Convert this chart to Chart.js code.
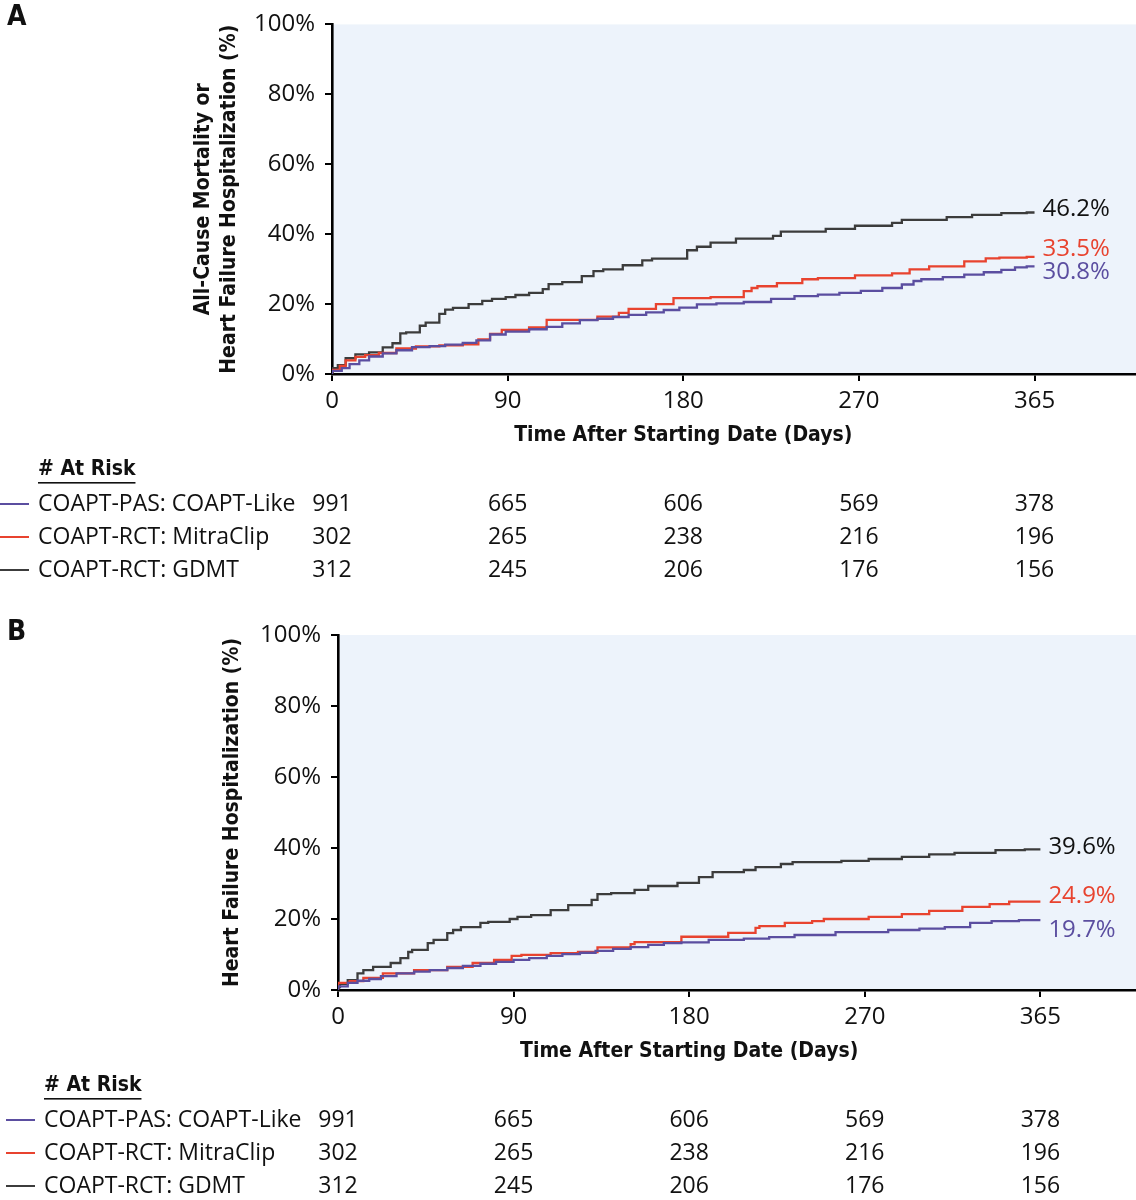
<!DOCTYPE html>
<html lang="en">
<head>
<meta charset="utf-8" />
<script src="https://cdn.jsdelivr.net/npm/chart.js@4.4.1/dist/chart.umd.min.js"></script>
<style>
  body { margin: 0; background: #fff; }
  .wrap { position: relative; width: 1136px; height: 1200px; }
  canvas { position: absolute; left: 0; }
</style>
</head>
<body>
<div class="wrap">
  <canvas id="chartA" width="1136" height="605" style="top:0"></canvas>
  <canvas id="chartB" width="1136" height="595" style="top:605px"></canvas>
</div>

<script>
// ---- data (days, cumulative %) ----
const groupNames = ['COAPT-PAS: COAPT-Like', 'COAPT-RCT: MitraClip', 'COAPT-RCT: GDMT'];

// panel A: all-cause mortality or HF hospitalization
const aLikeDays = [0, 5, 9, 14, 19, 26, 33, 41, 50, 58, 67, 74, 81, 89, 101, 110, 118, 127, 136, 144, 152, 161, 170, 178, 187, 197, 211, 225, 237, 249, 260, 271, 282, 292, 298, 302, 313, 324, 334, 343, 350, 356, 360];
const aLikePct  = [0, 0.9, 1.7, 2.8, 3.9, 5.0, 5.9, 6.8, 7.7, 8.0, 8.4, 8.9, 9.6, 11.3, 12.1, 12.8, 13.5, 14.5, 15.4, 15.8, 16.3, 16.9, 17.6, 18.3, 19.0, 19.9, 20.2, 20.6, 21.5, 22.3, 22.7, 23.2, 23.8, 24.6, 25.6, 26.6, 27.1, 27.7, 28.4, 29.1, 29.8, 30.5, 30.8];
const aMitraDays = [0, 4, 7, 12, 17, 24, 33, 43, 55, 67, 75, 81, 87, 101, 110, 136, 147, 152, 166, 175, 194, 211, 215, 218, 228, 241, 249, 268, 287, 296, 306, 324, 335, 342, 356, 360];
const aMitraPct  = [0, 1.2, 2.3, 3.9, 4.9, 5.4, 6.0, 7.3, 7.9, 8.2, 8.5, 9.9, 11.5, 12.6, 13.3, 15.5, 16.4, 17.5, 18.6, 20.0, 21.7, 22.0, 23.7, 24.6, 25.1, 26.0, 27.1, 27.4, 28.2, 28.8, 29.9, 30.8, 32.2, 33.1, 33.3, 33.5];
const aGdmtDays = [0, 3, 7, 12, 19, 26, 31, 35, 38, 45, 48, 55, 58, 62, 70, 77, 82, 89, 94, 101, 108, 111, 118, 128, 134, 139, 149, 159, 164, 182, 187, 194, 207, 226, 230, 253, 268, 287, 292, 315, 328, 343, 356, 360];
const aGdmtPct  = [0, 1.7, 2.5, 4.5, 5.6, 6.2, 7.6, 8.8, 11.6, 11.9, 13.8, 14.7, 17.2, 18.4, 18.9, 20.0, 20.9, 21.5, 22.0, 22.6, 23.2, 24.3, 25.7, 26.3, 28.0, 29.4, 29.9, 31.1, 32.5, 33.0, 35.4, 36.4, 37.6, 38.7, 39.5, 40.7, 41.5, 42.4, 43.2, 44.1, 44.9, 45.5, 46.0, 46.2];
const aEndLabels = ['30.8%', '33.5%', '46.2%'];

// panel B: HF hospitalization
const bLikeDays = [0, 5, 10, 16, 22, 30, 39, 47, 56, 64, 73, 81, 90, 98, 107, 115, 124, 132, 141, 150, 159, 167, 176, 190, 208, 221, 234, 255, 282, 298, 311, 324, 335, 349, 356, 360];
const bLikePct  = [0, 1.0, 2.0, 2.6, 3.1, 3.9, 4.7, 5.2, 5.6, 6.2, 6.8, 7.4, 7.9, 8.5, 9.0, 9.6, 10.1, 10.5, 11.0, 11.6, 12.1, 12.7, 13.2, 13.4, 14.1, 14.5, 14.9, 15.5, 16.3, 16.9, 17.3, 17.7, 18.9, 19.4, 19.7, 19.7];
const bMitraDays = [0, 6, 13, 23, 39, 56, 69, 80, 89, 94, 109, 123, 133, 150, 152, 176, 200, 214, 216, 229, 243, 249, 272, 289, 303, 320, 334, 344, 356, 360];
const bMitraPct  = [0, 2.0, 2.5, 3.4, 4.7, 5.6, 6.5, 7.6, 8.5, 9.6, 9.9, 10.4, 10.7, 12.0, 12.9, 13.5, 15.0, 16.1, 17.5, 18.0, 18.9, 19.4, 20.0, 20.6, 21.4, 22.3, 23.4, 24.2, 24.9, 24.9];
const bGdmtDays = [0, 1, 5, 10, 13, 18, 27, 32, 36, 38, 46, 49, 56, 59, 63, 73, 77, 88, 92, 99, 109, 118, 130, 133, 140, 152, 159, 174, 185, 192, 208, 214, 227, 233, 258, 272, 289, 303, 316, 337, 352, 357, 360];
const bGdmtPct  = [0, 0.8, 1.7, 2.8, 4.7, 5.6, 6.5, 7.6, 9.0, 10.7, 11.3, 13.2, 14.1, 16.0, 16.9, 17.7, 18.9, 19.2, 20.0, 20.6, 21.1, 22.5, 23.9, 25.4, 27.0, 27.3, 28.2, 29.3, 30.2, 31.8, 33.2, 33.8, 34.6, 35.5, 36.0, 36.4, 36.9, 37.5, 38.2, 38.6, 39.4, 39.6, 39.6];
const bEndLabels = ['19.7%', '24.9%', '39.6%'];

// x axis: the figure spaces its ticks evenly, last one printed as 365
const xTicks = [0, 90, 180, 270, 360];
const xTickLabels = ['0', '90', '180', '270', '365'];
const yTicks = [0, 20, 40, 60, 80, 100];

// number at risk (same in both panels)
const atRiskLike  = [991, 665, 606, 569, 378];
const atRiskMitra = [302, 265, 238, 216, 196];
const atRiskGdmt  = [312, 245, 206, 176, 156];

// ---- styles ----
const lineColors = ['#5b4ea0', '#e8432f', '#3c3c3c'];
const labelColors = ['#5b4ea0', '#e8432f', '#111111'];
const regular = "'Open Sans', 'Noto Sans', sans-serif";
const narrow = "'DejaVu Sans Condensed', 'Liberation Sans Narrow', sans-serif";

function toXY(days, pct) {
	return days.map((d, i) => ({x: d, y: pct[i]}));
}

const kmExtras = {
	id: 'kmExtras',
	beforeDraw: (chart, args, opts) => {
		const {ctx, chartArea} = chart;
		ctx.save();
		ctx.fillStyle = '#edf3fb';
		ctx.fillRect(chartArea.left, chartArea.top, chartArea.right - chartArea.left, chartArea.bottom - chartArea.top);
		ctx.restore();
	},
	afterDraw: (chart, args, opts) => {
		const {ctx, chartArea} = chart;
		const xs = chart.scales.x, ys = chart.scales.y;
		ctx.save();
		ctx.fillStyle = '#111';
		ctx.textBaseline = 'middle';

		// panel letter
		ctx.font = 'bold 28px ' + narrow;
		ctx.textAlign = 'left';
		ctx.fillText(opts.letter, 7, opts.letterY);

		// x title, centred on the 0..365 span
		ctx.font = 'bold 21px ' + narrow;
		ctx.textAlign = 'center';
		const mid = (xs.getPixelForValue(xTicks[0]) + xs.getPixelForValue(xTicks[xTicks.length - 1])) / 2;
		ctx.fillText('Time After Starting Date (Days)', mid, chartArea.bottom + 62);

		// end-of-curve labels
		ctx.font = '24px ' + regular;
		ctx.textAlign = 'left';
		chart.data.datasets.forEach((ds, i) => {
			const last = ds.data[ds.data.length - 1];
			ctx.fillStyle = labelColors[i];
			ctx.fillText(opts.endLabels[i], xs.getPixelForValue(last.x) + 8, ys.getPixelForValue(last.y) + opts.nudge[i]);
		});

		// number at risk
		const base = chartArea.bottom;
		ctx.fillStyle = '#111';
		ctx.font = 'bold 21px ' + narrow;
		ctx.fillText('# At Risk', opts.tableX, base + 96);
		const w = ctx.measureText('# At Risk').width;
		ctx.fillRect(opts.tableX, base + 108, w, 1.6);

		const rows = [atRiskLike, atRiskMitra, atRiskGdmt];
		rows.forEach((vals, r) => {
			const y = base + 130 + r * 33;
			ctx.strokeStyle = lineColors[r];
			ctx.lineWidth = 2;
			ctx.beginPath();
			ctx.moveTo(opts.tableX - 38, y);
			ctx.lineTo(opts.tableX - 9, y);
			ctx.stroke();
			ctx.fillStyle = '#111';
			ctx.font = '23px ' + regular;
			ctx.textAlign = 'left';
			ctx.fillText(groupNames[r], opts.tableX, y);
			ctx.textAlign = 'center';
			vals.forEach((v, c) => {
				ctx.fillText(String(v), xs.getPixelForValue(xTicks[c]), y);
			});
		});
		ctx.restore();
	}
};

function makeChart(id, series, cfg) {
	return new Chart(document.getElementById(id), {
		type: 'line',
		data: {
			datasets: series.map((s, i) => ({
				label: groupNames[i],
				data: s,
				borderColor: lineColors[i],
				borderWidth: 2.3,
				stepped: 'after',
				pointRadius: 0,
				fill: false
			}))
		},
		options: {
			responsive: false,
			animation: false,
			layout: { padding: { left: cfg.padLeft, top: cfg.padTop, right: 0, bottom: cfg.padBottom } },
			scales: {
				x: {
					type: 'linear',
					min: 0,
					max: cfg.xMax,
					afterBuildTicks: (scale) => { scale.ticks = xTicks.map(v => ({value: v})); },
					afterFit: (scale) => { scale.height = 76; },
					ticks: {
						autoSkip: false,
						maxRotation: 0,
						padding: 6,
						color: '#111',
						font: { family: regular, size: 24 },
						callback: (v) => xTickLabels[xTicks.indexOf(v)]
					},
					grid: { drawOnChartArea: false, tickLength: 7, color: '#000', lineWidth: 2 },
					border: { color: '#000', width: 2.6 }
				},
				y: {
					min: 0,
					max: 100,
					afterBuildTicks: (scale) => { scale.ticks = yTicks.map(v => ({value: v})); },
					afterFit: (scale) => { scale.width = cfg.yWidth; },
					ticks: {
						padding: 10,
						color: '#111',
						font: { family: regular, size: 24 },
						callback: (v) => v + '%'
					},
					grid: { drawOnChartArea: false, tickLength: 7, color: '#000', lineWidth: 2 },
					border: { color: '#000', width: 2.6 },
					title: {
						display: true,
						text: cfg.yTitle,
						color: '#111',
						padding: 0,
						font: { family: narrow, size: 21, weight: 'bold', lineHeight: 1.25 }
					}
				}
			},
			plugins: {
				legend: { display: false },
				tooltip: { enabled: false },
				kmExtras: cfg.extras
			}
		},
		plugins: [kmExtras]
	});
}

makeChart('chartA',
	[toXY(aLikeDays, aLikePct), toXY(aMitraDays, aMitraPct), toXY(aGdmtDays, aGdmtPct)],
	{
		padLeft: 190, padTop: 18, padBottom: 155, yWidth: 142, xMax: 412,
		yTitle: ['All-Cause Mortality or', 'Heart Failure Hospitalization (%)'],
		extras: { letter: 'A', letterY: 18, endLabels: aEndLabels, nudge: [6, -8, -3], tableX: 38 }
	});

makeChart('chartB',
	[toXY(bLikeDays, bLikePct), toXY(bMitraDays, bMitraPct), toXY(bGdmtDays, bGdmtPct)],
	{
		padLeft: 219, padTop: 30, padBottom: 134, yWidth: 119, xMax: 409,
		yTitle: 'Heart Failure Hospitalization (%)',
		extras: { letter: 'B', letterY: 28, endLabels: bEndLabels, nudge: [10, -5, -2], tableX: 44 }
	});
</script>
</body>
</html>
